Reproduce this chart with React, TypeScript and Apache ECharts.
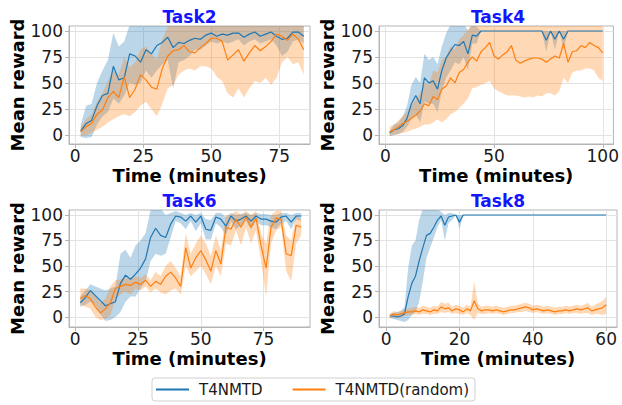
import React, { useEffect, useRef } from 'react';
import * as echarts from 'echarts';

// ---------- Data ----------
const SERIES_NAMES = ['T4NMTD', 'T4NMTD(random)'];
const TASK_TITLES = ['Task2', 'Task4', 'Task6', 'Task8'];

const T2_X = [2,4,6,8,10,12,14,16,18,20,22,24,26,28,30,32,34,36,38,40,42,44,46,48,50,52,54,56,58,60,62,64,66,68,70,72,74,76,78,80,82,84];
const T2_B_MEAN = [4,11,14,28,38,40,66,53,55,78,76,70,82,78,86,89,94,84,89,88,91,93,92,96,98,95,97,96,98,98,94,97,99,95,97,99,95,92,93,99,99,95];
const T2_B_LO = [-2,-3,-2,10,18,22,35,30,38,50,48,50,62,55,62,68,72,45,70,72,76,82,82,86,90,88,90,88,90,92,86,90,92,88,90,92,86,76,80,90,92,88];
const T2_B_HI = [10,28,30,50,62,72,98,85,90,106,108,108,108,108,108,108,108,108,108,108,108,108,108,108,108,108,108,108,108,108,108,108,108,108,108,108,108,108,108,108,108,108];
const T2_O_MEAN = [3,8,11,20,24,36,42,36,56,36,44,58,53,46,44,64,76,81,82,86,80,79,84,88,93,93,90,72,77,82,71,79,86,81,85,90,97,95,91,97,92,82];
const T2_O_LO = [-1,0,2,5,8,12,15,18,20,18,22,28,32,25,18,30,45,48,58,62,64,62,66,66,64,56,52,40,36,45,36,45,52,50,55,48,55,70,75,68,70,58];
const T2_O_HI = [8,15,20,32,40,52,62,58,75,65,70,82,85,78,72,92,104,108,108,108,108,108,108,108,108,108,108,108,108,108,108,108,108,108,108,108,108,108,108,108,108,108];

const T4_X = [2,4,6,8,10,12,14,16,18,20,22,24,26,28,30,32,34,36,38,40,42,44,46,48,50,52,54,56,58,60,62,64,66,68,70,72,74,76,78,80,82,84,86,88,90,92,94,96,98,100];
const T4_B_MEAN = [2,5,6,9,16,30,38,30,55,50,52,44,62,74,81,87,86,90,78,96,95,100,100,100,100,100,100,100,100,100,100,100,100,100,100,100,91,100,92,100,92,100,100,100,100,100,100,100,100,100];
const T4_B_LO = [-1,0,1,3,8,15,20,12,32,30,30,22,42,55,62,70,68,75,62,88,88,100,100,100,100,100,100,100,100,100,100,100,100,100,100,100,80,100,82,100,82,100,100,100,100,100,100,100,100,100];
const T4_B_HI = [4,10,12,18,28,48,56,50,78,72,75,68,85,98,106,108,108,108,100,106,104,100,100,100,100,100,100,100,100,100,100,100,100,100,100,100,100,100,100,100,100,100,100,100,100,100,100,100,100,100];
const T4_O_MEAN = [3,5,8,11,13,16,19,23,30,28,37,34,44,47,55,50,60,63,70,75,71,80,84,89,76,73,77,80,86,72,69,71,73,74,74,73,70,73,76,74,88,70,80,81,86,84,89,86,84,79];
const T4_O_LO = [-1,0,1,2,3,5,6,8,10,10,12,15,12,15,20,22,26,30,35,45,46,48,50,52,45,42,40,38,38,38,37,36,37,36,38,37,40,40,38,42,55,50,60,62,62,64,64,62,55,52];
const T4_O_HI = [8,10,14,18,22,28,34,40,50,48,62,60,72,76,85,82,92,96,102,106,106,106,106,106,106,106,106,106,106,106,106,106,106,106,106,106,106,106,106,106,106,106,106,106,106,106,106,106,106,106];

const T6_X = [2,4,6,8,10,12,14,16,18,20,22,24,26,28,30,32,34,36,38,40,42,44,46,48,50,52,54,56,58,60,62,64,66,68,70,72,74,76,78,80,82,84,86,88,90];
const T6_B_MEAN = [14,19,26,21,16,11,13,15,33,41,37,42,48,57,78,87,80,78,91,99,98,94,99,93,99,86,85,98,96,89,99,94,96,99,94,99,96,96,94,93,98,99,93,99,99];
const T6_B_LO = [10,12,15,12,3,-4,-3,0,5,15,20,20,28,35,55,62,60,62,78,94,92,86,94,84,92,76,76,92,88,80,94,86,90,94,86,94,90,90,88,86,92,94,86,96,94];
const T6_B_HI = [20,26,32,30,28,26,28,30,62,66,58,70,75,82,105,108,106,100,102,104,102,100,102,100,102,96,95,102,102,98,102,100,101,102,100,102,101,101,100,100,102,102,100,102,102];
const T6_O_MEAN = [18,21,18,10,4,8,14,28,30,32,31,34,32,36,30,35,32,40,44,38,30,68,48,58,65,56,45,65,52,88,86,96,88,98,88,97,70,48,88,97,96,62,60,90,88];
const T6_O_LO = [12,10,8,0,-3,-2,2,18,22,25,22,28,26,30,24,28,24,22,26,28,22,50,40,45,50,42,32,50,40,72,70,85,70,88,72,85,55,20,72,85,88,45,35,72,80];
const T6_O_HI = [28,28,26,20,14,18,30,36,37,38,38,40,38,42,36,44,40,50,55,48,40,82,62,72,80,72,60,80,66,100,100,104,100,104,100,104,82,72,100,104,104,80,75,100,95];

const T8_X = [1,2,3,4,5,6,7,8,9,10,11,12,13,14,15,16,17,18,19,20,21,22,23,24,25,26,27,28,29,30,31,32,33,34,35,36,37,38,39,40,41,42,43,44,45,46,47,48,49,50,51,52,53,54,55,56,57,58,59,60];
const T8_B_MEAN = [1,1,0,1,3,20,33,40,55,68,80,82,88,95,99,90,98,99,100,93,100,100,100,100,100,100,100,100,100,100,100,100,100,100,100,100,100,100,100,100,100,100,100,100,100,100,100,100,100,100,100,100,100,100,100,100,100,100,100,100];
const T8_B_LO = [-1,-2,-3,-4,-5,-3,2,5,15,35,58,68,78,88,95,75,92,95,100,86,100,100,100,100,100,100,100,100,100,100,100,100,100,100,100,100,100,100,100,100,100,100,100,100,100,100,100,100,100,100,100,100,100,100,100,100,100,100,100,100];
const T8_B_HI = [3,4,5,6,10,48,70,75,95,106,108,108,108,106,103,100,102,102,100,100,100,100,100,100,100,100,100,100,100,100,100,100,100,100,100,100,100,100,100,100,100,100,100,100,100,100,100,100,100,100,100,100,100,100,100,100,100,100,100,100];
const T8_O_MEAN = [1,3,2,3,4,5,5,6,5,7,6,5,7,6,10,8,9,6,8,7,5,8,6,16,8,6,7,7,6,7,6,5,6,7,7,8,9,10,9,7,8,7,6,7,6,5,6,6,7,6,7,8,7,8,9,6,7,8,9,12];
const T8_O_LO = [-1,0,-1,0,1,2,2,3,2,3,3,2,3,3,5,4,5,3,4,3,2,4,2,-3,4,3,3,4,3,4,3,2,3,4,4,5,5,6,5,4,5,4,3,4,3,2,3,3,4,3,4,4,3,4,4,2,3,3,2,3];
const T8_O_HI = [3,6,5,6,7,8,9,10,9,11,10,9,11,10,15,13,14,10,12,11,9,12,10,35,13,10,11,11,10,11,10,9,10,11,11,12,13,14,13,11,12,11,10,11,10,9,10,10,11,10,11,12,11,12,14,10,12,14,16,20];

const X_TICKS = [[0, 25, 50, 75], [0, 50, 100], [0, 25, 50, 75], [0, 20, 40, 60]];
const Y_TICKS = [0, 25, 50, 75, 100];

// ---------- Styling / layout ----------
const BLUE = '#1f77b4';
const ORANGE = '#ff7f0e';
const FONT = 'DejaVu Sans';
const GRIDS = [
  { left: 69, top: 26, width: 241, height: 118 },
  { left: 379, top: 26, width: 238, height: 118 },
  { left: 69, top: 210, width: 241, height: 117 },
  { left: 379, top: 210, width: 238, height: 117 },
];
const X_RANGES = [[-2.3, 86.3], [-2.9, 104.9], [-2.5, 93.5], [-1.95, 62.95]];
const Y_RANGES = [[-8.7, 104.8], [-8.7, 104.8], [-9.8, 104.9], [-9.8, 104.9]];

const PANELS = [
  { x: T2_X, bm: T2_B_MEAN, bl: T2_B_LO, bh: T2_B_HI, om: T2_O_MEAN, ol: T2_O_LO, oh: T2_O_HI },
  { x: T4_X, bm: T4_B_MEAN, bl: T4_B_LO, bh: T4_B_HI, om: T4_O_MEAN, ol: T4_O_LO, oh: T4_O_HI },
  { x: T6_X, bm: T6_B_MEAN, bl: T6_B_LO, bh: T6_B_HI, om: T6_O_MEAN, ol: T6_O_LO, oh: T6_O_HI },
  { x: T8_X, bm: T8_B_MEAN, bl: T8_B_LO, bh: T8_B_HI, om: T8_O_MEAN, ol: T8_O_LO, oh: T8_O_HI },
];

function bandSeries(idx: number, key: string, xs: number[], lo: number[], hi: number[], color: string) {
  return {
    type: 'custom', name: 'band-' + key + idx, xAxisIndex: idx, yAxisIndex: idx,
    silent: true, clip: true,
    data: xs.map((x, i) => [x, lo[i], hi[i]]),
    encode: { x: 0, y: [1, 2] },
    renderItem: (params: any, api: any) => {
      if (params.dataIndex !== 0) return null;
      const pts: number[][] = [];
      for (let i = 0; i < xs.length; i++) pts.push(api.coord([xs[i], hi[i]]));
      for (let i = xs.length - 1; i >= 0; i--) pts.push(api.coord([xs[i], lo[i]]));
      const cs = params.coordSys;
      return {
        type: 'group',
        clipPath: { type: 'rect', shape: { x: cs.x, y: cs.y, width: cs.width, height: cs.height } },
        children: [
          { type: 'polygon', shape: { points: pts }, style: { fill: color, opacity: 0.3 } },
        ],
      };
    },
  };
}

function meanSeries(idx: number, name: string, xs: number[], ys: number[], color: string) {
  return {
    type: 'line', name, xAxisIndex: idx, yAxisIndex: idx,
    data: xs.map((x, i) => [x, ys[i]]), symbol: 'none', color,
    lineStyle: { color, width: 1.2 },
  };
}

function buildOption() {
  const series: any[] = [];
  PANELS.forEach((p, i) => {
    series.push(bandSeries(i, 'b', p.x, p.bl, p.bh, BLUE));
    series.push(bandSeries(i, 'o', p.x, p.ol, p.oh, ORANGE));
    series.push(meanSeries(i, SERIES_NAMES[0], p.x, p.bm, BLUE));
    series.push(meanSeries(i, SERIES_NAMES[1], p.x, p.om, ORANGE));
  });

  const axisColor = '#b5b5b5';
  const xAxis = GRIDS.map((_, i) => ({
    type: 'value', gridIndex: i, min: X_RANGES[i][0], max: X_RANGES[i][1],
    name: 'Time (minutes)', nameLocation: 'middle', nameGap: 22,
    nameTextStyle: { fontSize: 18, lineHeight: 18, fontWeight: 'bold', color: '#000', fontFamily: FONT },
    axisLine: { show: true, onZero: false, lineStyle: { color: axisColor, width: 1 } },
    axisTick: { show: true, length: 4, customValues: X_TICKS[i], lineStyle: { color: axisColor } },
    axisLabel: { customValues: X_TICKS[i], fontSize: 17, lineHeight: 17, margin: 3, color: '#1a1a1a', fontFamily: FONT, showMinLabel: true, showMaxLabel: true },
    splitLine: { show: true, lineStyle: { color: '#e3e3e3', width: 1 } },
  }));
  const yAxis = GRIDS.map((_, i) => ({
    type: 'value', gridIndex: i, min: Y_RANGES[i][0], max: Y_RANGES[i][1],
    name: 'Mean reward', nameLocation: 'middle', nameGap: 40, nameRotate: 90,
    nameTextStyle: { fontSize: 18, fontWeight: 'bold', color: '#000', fontFamily: FONT },
    axisLine: { show: true, onZero: false, lineStyle: { color: axisColor, width: 1 } },
    axisTick: { show: true, length: 4, customValues: Y_TICKS, lineStyle: { color: axisColor } },
    axisLabel: { customValues: Y_TICKS, fontSize: 17, margin: 6, color: '#1a1a1a', fontFamily: FONT },
    splitLine: { show: true, lineStyle: { color: '#e3e3e3', width: 1 } },
  }));

  const title = GRIDS.map((g, i) => ({
    text: TASK_TITLES[i], left: g.left + g.width / 2, top: i < 2 ? 8 : 192,
    textAlign: 'center', padding: 0,
    textStyle: { fontSize: 17, fontWeight: 'bold', color: '#1414ff', fontFamily: FONT },
  }));

  return {
    animation: false,
    backgroundColor: '#ffffff',
    title,
    grid: GRIDS.map((g) => ({ ...g, show: true, borderColor: axisColor, borderWidth: 1, backgroundColor: 'transparent' })),
    xAxis,
    yAxis,
    legend: {
      data: SERIES_NAMES, left: 152, top: 378, icon: 'rect', itemWidth: 33, itemHeight: 2,
      itemGap: 30, padding: [4, 6, 4, 4], borderColor: '#d0d0d0', borderWidth: 1, borderRadius: 3,
      textStyle: { fontSize: 15, fontFamily: FONT, color: '#1a1a1a', padding: [0, 0, 0, 5] },
    },
    series,
  };
}

export default function App() {
  const ref = useRef<HTMLDivElement>(null);
  useEffect(() => {
    if (!ref.current) return;
    const chart = echarts.init(ref.current, undefined, { renderer: 'svg' });
    chart.setOption(buildOption() as any);
    return () => chart.dispose();
  }, []);
  return <div ref={ref} style={{ position: 'fixed', left: 0, top: 0, width: 622, height: 405 }} />;
}
